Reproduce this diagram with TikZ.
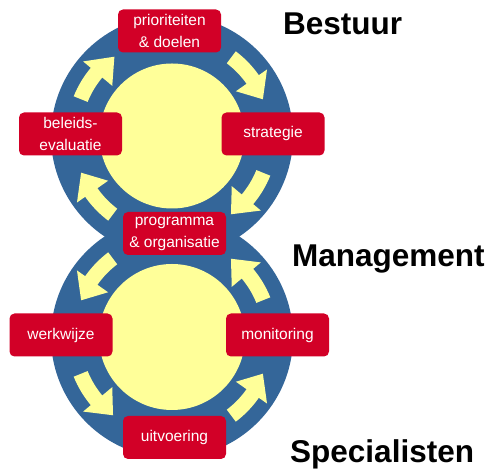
\documentclass[tikz,border=0pt]{standalone}
\usepackage{fontspec}
\setmainfont{Liberation Sans}
\definecolor{ringblue}{HTML}{346699}
\definecolor{boxred}{HTML}{D20027}
\definecolor{lightyellow}{HTML}{FFFF99}
\newcommand\carrow[4]{%
  \fill[arr, shift={(#1)}] (#2:91) arc[start angle=#2, end angle=#3, radius=91]
    -- (#3:78) -- (#4:98) -- (#3:116) -- (#3:106)
    arc[start angle=#3, end angle=#2, radius=106] -- cycle;}
\begin{document}
\begin{tikzpicture}[x=1pt,y=1pt,
  box/.style={fill=boxred, rounded corners=5pt, text=white, minimum width=103pt,
    minimum height=43pt, inner sep=0pt, align=center,
    font=\fontsize{15.5}{22}\selectfont},
  lbl/.style={anchor=base west, inner sep=0pt, font=\fontsize{31.5}{36}\selectfont\bfseries},
  arr/.style={fill=lightyellow}]
\useasboundingbox (0,0) rectangle (488,473);
\coordinate (ct) at (172,337);
\coordinate (cb) at (172,136);
\fill[ringblue] (ct) circle[radius=121];
\fill[ringblue] (cb) circle[radius=121];
\fill[lightyellow] (ct) circle[radius=72.5];
\fill[lightyellow] (cb) circle[radius=73];
% top circle arrows (clockwise)
\carrow{ct}{158}{140}{126}
\carrow{ct}{53}{35}{22}
\carrow{ct}{-22}{-40}{-53}
\carrow{ct}{233}{215}{202}
% bottom circle arrows (counter-clockwise)
\carrow{cb}{127}{145}{158}
\carrow{cb}{202}{220}{233}
\carrow{cb}{-53}{-35}{-22}
\carrow{cb}{22}{40}{53}
% boxes
\node[box] (prio) at (169.5,442) {prioriteiten\\\& doelen};
\node[box] (bel) at (70.5,339) {beleids-\\evaluatie};
\node[box] (str) at (273,339) {strategie};
\node[box] (prog) at (174.5,239.5) {programma\\\& organisatie};
\node[box] (werk) at (61,138) {werkwijze};
\node[box] (mon) at (277.5,138) {monitoring};
\node[box] (uit) at (174.5,35.5) {uitvoering};
% labels
\node[lbl] (lb) at (283,438) {Bestuur};
\node[lbl] (lm) at (292,206) {Management};
\node[lbl] (ls) at (290,10) {Specialisten};
\end{tikzpicture}
\end{document}
